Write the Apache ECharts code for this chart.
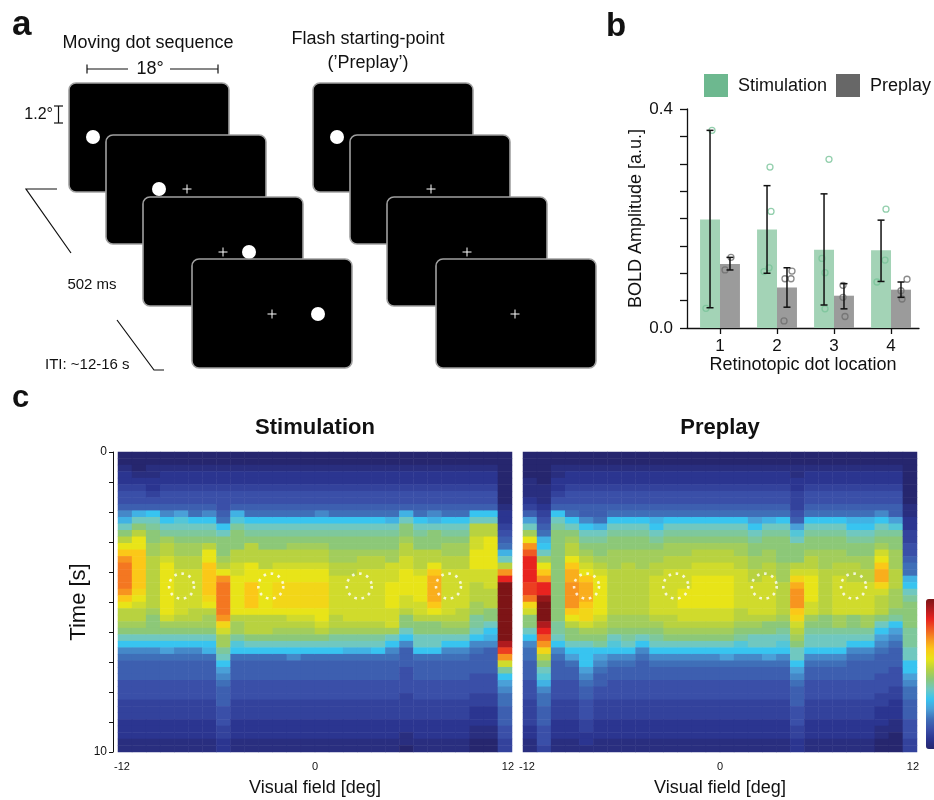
<!DOCTYPE html>
<html>
<head>
<meta charset="utf-8">
<script src="https://cdn.jsdelivr.net/npm/echarts@6/dist/echarts.min.js"></script>
<style>
  html, body { margin: 0; padding: 0; background: #fff; }
  #chart { width: 934px; height: 800px; }
</style>
</head>
<body>
<div id="chart"></div>
<script>
// ---------- Panel b: BOLD amplitude per retinotopic dot location ----------
const dotLocations = [1, 2, 3, 4];
const stimMean = [0.198, 0.180, 0.143, 0.142];
const preplayMean = [0.117, 0.074, 0.059, 0.070];
// [lower, upper] ends of the error bars
const stimErr = [[0.037, 0.361], [0.100, 0.260], [0.042, 0.245], [0.085, 0.197]];
const preplayErr = [[0.106, 0.129], [0.038, 0.110], [0.035, 0.081], [0.056, 0.084]];
// individual subjects: [jittered location, amplitude]
const stimSubjects = [
  [0.860, 0.361], [0.754, 0.036],
  [1.877, 0.294], [1.895, 0.213], [1.860, 0.110], [1.772, 0.103],
  [2.912, 0.308], [2.789, 0.127], [2.842, 0.101], [2.842, 0.035],
  [3.912, 0.217], [3.895, 0.124], [3.754, 0.084]
];
const preplaySubjects = [
  [1.193, 0.129], [1.088, 0.106],
  [2.263, 0.104], [2.140, 0.090], [2.246, 0.090], [2.123, 0.013],
  [3.158, 0.078], [3.158, 0.056], [3.193, 0.021],
  [4.281, 0.089], [4.175, 0.068], [4.193, 0.053]
];
const amplitudeTicks = [0, 0.4];

// ---------- Panel c: response over time across the visual field ----------
// One string per visual-field column (left to right), one character per
// time bin (top to bottom), base-36 response level on a 0..30 scale.
const stimCols = [
  "0012234457" + "9cegikmnnn" + "nmkiggfeca" + "7655544433" + "322211",
  "0001234459" + "cegiikkkkk" + "kjihggfeca" + "7655544433" + "322211",
  "001122345a" + "cdeeffgggg" + "ggggfeeeca" + "7655544433" + "322211",
  "0012234457" + "acdfgghiii" + "iiiiihfeca" + "8655544433" + "322211",
  "0012234458" + "bcdeffgghh" + "hhhhhgfeca" + "7655544433" + "322211",
  "0012234456" + "acdeffgghh" + "hhhhggfeca" + "7655544433" + "322211",
  "0012234457" + "acdegiikkk" + "kkjigffeca" + "9655544433" + "322211",
  "0012234445" + "6aceeefgim" + "nnnnnmjhff" + "dca8765554" + "443322",
  "0012234459" + "bdeeegghhi" + "iiiiigffdb" + "a655544433" + "322211",
  "0012234456" + "acdegggiii" + "kkkkigggec" + "a655544433" + "322211",
  "0012234456" + "acdeegggii" + "iiiiigggec" + "a655544433" + "322211",
  "0012234456" + "acdeegghii" + "jjjjiggfec" + "a655544433" + "322211",
  "0012234456" + "acdefgghii" + "jjjjihgfec" + "a755544433" + "322211",
  "0012234456" + "acdefgghii" + "jjjjihgfec" + "a655544433" + "322211",
  "0012234457" + "acdefgghii" + "jjjjiihgec" + "a655544433" + "322211",
  "0012234456" + "acdeeffggh" + "hhhhhggfdc" + "a655544433" + "322211",
  "0012234456" + "acdeeffggh" + "hhhhhhgfdc" + "9655544433" + "322211",
  "0012234456" + "acdeefgghh" + "hhhhhhgfdc" + "9655544433" + "322211",
  "0012234456" + "acdeefgghh" + "hhhhhhgfdc" + "a655544433" + "322211",
  "0012234456" + "9cdeeffhhh" + "iiiihhhfca" + "7655544433" + "322211",
  "0012234459" + "ceefgghhii" + "iihhgeeca7" + "5554444333" + "322110",
  "0012234456" + "acdeeggghi" + "iiihhgeecc" + "a655544433" + "322211",
  "0012234457" + "9ceeeggikl" + "lllkigeecc" + "a655544433" + "322211",
  "0012234456" + "acdeffgghh" + "hhhhhgfeca" + "7655544433" + "322211",
  "0012234456" + "acdeffgghh" + "hhhhggfeca" + "7655544433" + "322211",
  "001223445a" + "cgghhiiihh" + "gggffddca7" + "6555444332" + "221100",
  "001223445a" + "cggiiiiihh" + "hgggeeca97" + "5555444332" + "221100",
  "0000000012" + "234569cgmq" + "uuuuuuuuus" + "pmhda87665" + "554433"
];
const preplayCols = [
  "0000111235" + "8cfimoqqqq" + "ppnjheeca7" + "6655544433" + "332211",
  "0000011123" + "4569acfikm" + "qqtuuusqom" + "jgecb97665" + "554443",
  "001122345a" + "cdeeeeeeee" + "eeeeeeddca" + "7655544433" + "322211",
  "0012234456" + "acefggikll" + "mmmmkigeec" + "a865544433" + "322211",
  "0012234455" + "7acdefghik" + "lllkjjhfec" + "aaa8765544" + "433221",
  "0012234455" + "69cdeefghi" + "iiiiihgfed" + "a876554433" + "322211",
  "0012234456" + "acdeefffgg" + "gggggffecb" + "a765544433" + "322211",
  "0012234456" + "acdeeffggg" + "gggggffedc" + "a765544433" + "322211",
  "0012234456" + "acdeefffgg" + "gggggffeca" + "7655544433" + "322211",
  "0012234456" + "9acdeffggh" + "hhhhhgfedc" + "a765544433" + "322211",
  "0012234456" + "acdeffgghh" + "hhhhhggfec" + "a765544433" + "322211",
  "0012234456" + "acdeffgghh" + "hiiihhgfec" + "a765544433" + "322211",
  "0012234456" + "acdefgghhi" + "iiiihhgfec" + "a765544433" + "322211",
  "0012234456" + "acdefgghhi" + "iiiihhgfec" + "a765544433" + "322211",
  "0012234456" + "acdefgghhi" + "iiiihhgfec" + "a865544433" + "322211",
  "0012234456" + "acdeffgghh" + "hhhhggfedb" + "a765544433" + "322211",
  "0012234456" + "8acdeeffgg" + "hhhhhgfecc" + "a765544433" + "322211",
  "0012234456" + "9cdeeffggh" + "hhhhhgeecc" + "a865544433" + "322211",
  "0012234456" + "acdeeeefff" + "gggggfedcb" + "a765544433" + "322211",
  "0011223334" + "58bceeeghj" + "lmmmkjhgfe" + "cca8765554" + "443322",
  "0012234456" + "acdeefgghi" + "iiihhfedcc" + "a765544433" + "322211",
  "0012234456" + "acdeefffgg" + "gggggeedcc" + "a765544433" + "322211",
  "0012234456" + "acdeeffggh" + "hhhhhffdcc" + "a765544433" + "322211",
  "0012234456" + "9acdeefggg" + "hhhhheedca" + "7655544433" + "322211",
  "0012234456" + "9acdeeffgg" + "hhhhhffdca" + "7655544433" + "322211",
  "0012234457" + "acdefhikll" + "jhgggeca87" + "6555444332" + "221100",
  "0012234455" + "8bdeefffgg" + "gfffeda876" + "5554443322" + "211000",
  "0000000011" + "2233445669" + "acdeeeeddd" + "ccaa876655" + "544433"
];
const fieldTicks = [-12, 0, 12];
const timeTicks = [0, 10];
// dot locations marked on the maps: visual-field position [deg] and time [s]
const markerDeg = [-8.3, -2.75, 2.75, 8.3];
const markerTime = 4.47;

// ---------- helpers ----------
const FONT = '"Liberation Sans", Arial, Helvetica, sans-serif';
const nRows = stimCols[0].length;
const colIdx = stimCols.map((_, i) => i);
const rowIdx = Array.from({ length: nRows }, (_, i) => i);

function toCells(cols) {
  const out = [];
  cols.forEach((s, c) => {
    for (let r = 0; r < s.length; r++) out.push([c, r, parseInt(s[r], 36)]);
  });
  return out;
}

const levelColors = [
  '#26266e', '#2b3590', '#3a4fa8', '#3f6fb8', '#4aa0d8', '#38c4f0',
  '#70c8c0', '#8cc878', '#b8d240', '#e8e418', '#fbc818', '#f7941f',
  '#f05a22', '#e8231f', '#b01b1e', '#7d1416'
];

// ---------- panel a: stimulus schematic ----------
const g = [];
let zc = 10;
function txt(text, x, y, size, opts) {
  opts = opts || {};
  g.push({
    type: 'text', x: x, y: y, z: zc++,
    style: {
      text: text, fill: '#111',
      font: (opts.bold ? 'bold ' : 'normal ') + size + 'px ' + FONT,
      textAlign: opts.align || 'center', textVerticalAlign: opts.valign || 'middle'
    }
  });
}
function line(pts, color, w) {
  g.push({ type: 'polyline', z: zc++, shape: { points: pts },
           style: { stroke: color || '#111', lineWidth: w || 1.2, fill: null } });
}
function screen(x, y) {
  g.push({ type: 'rect', z: zc++, shape: { x: x, y: y, width: 160, height: 109, r: 7 },
           style: { fill: '#000', stroke: '#a0a0a0', lineWidth: 1.6 } });
}
function dot(x, y) {
  g.push({ type: 'circle', z: zc++, shape: { cx: x, cy: y, r: 7 }, style: { fill: '#fff' } });
}
function cross(x, y) {
  line([[x - 4.5, y], [x + 4.5, y]], '#fff', 1);
  line([[x, y - 4.5], [x, y + 4.5]], '#fff', 1);
}

txt('a', 12, 25, 35, { bold: true, align: 'left' });
txt('Moving dot sequence', 148, 43, 18);
line([[87, 69], [128, 69]]); line([[170, 69], [218, 69]]);
line([[87, 64.5], [87, 73.5]]); line([[218, 64.5], [218, 73.5]]);
txt('18°', 150, 69, 18);
txt('1.2°', 53, 115, 16, { align: 'right' });
line([[58.5, 106], [58.5, 123]]);
line([[54, 106], [63, 106]]); line([[54, 123], [63, 123]]);

// moving dot sequence
screen(69, 83);  dot(93, 137);
screen(106, 135); cross(187, 189); dot(159, 189);
screen(143, 197); cross(223, 252); dot(249, 252);
screen(192, 259); cross(272, 314); dot(318, 314);

// flash starting point only
txt('Flash starting-point', 368, 39, 18);
txt('(\u2019Preplay\u2019)', 368, 63, 18);
screen(313, 83);  dot(337, 137);
screen(350, 135); cross(431, 189);
screen(387, 197); cross(467, 252);
screen(436, 259); cross(515, 314);

line([[57, 189], [26, 189], [71, 253]]);
txt('502 ms', 92, 285, 15);
line([[117, 320], [154, 370], [164, 370]]);
txt('ITI: ~12-16 s', 45, 365, 15, { align: 'left' });

// ---------- panel b decorations ----------
txt('b', 606, 27, 33, { bold: true, align: 'left' });
g.push({ type: 'rect', z: zc++, shape: { x: 704, y: 74, width: 24, height: 23 }, style: { fill: '#6db88f' } });
txt('Stimulation', 738, 86, 18, { align: 'left' });
g.push({ type: 'rect', z: zc++, shape: { x: 836, y: 74, width: 24, height: 23 }, style: { fill: '#676767' } });
txt('Preplay', 870, 86, 18, { align: 'left' });

// ---------- panel c decorations ----------
txt('c', 12, 398, 31, { bold: true, align: 'left' });
txt('Stimulation', 315, 428, 22, { bold: true });
txt('Preplay', 720, 428, 22, { bold: true });

// ---------- series renderers ----------
const HALF = 0.175;
function barRenderer(offset) {
  return function (params, api) {
    const x = api.value(0) + offset;
    const p0 = api.coord([x - HALF, api.value(1)]);
    const p1 = api.coord([x + HALF, 0]);
    return { type: 'rect', shape: { x: p0[0], y: p0[1], width: p1[0] - p0[0], height: p1[1] - p0[1] },
             style: api.style() };
  };
}
function errRenderer(params, api) {
  const x = api.value(0) + api.value(3) * HALF;
  const lo = api.coord([x, api.value(1)]);
  const hi = api.coord([x, api.value(2)]);
  const c = 3.5;
  const st = { stroke: '#111', lineWidth: 1.5 };
  return { type: 'group', children: [
    { type: 'line', shape: { x1: lo[0], y1: lo[1], x2: hi[0], y2: hi[1] }, style: st },
    { type: 'line', shape: { x1: lo[0] - c, y1: lo[1], x2: lo[0] + c, y2: lo[1] }, style: st },
    { type: 'line', shape: { x1: hi[0] - c, y1: hi[1], x2: hi[0] + c, y2: hi[1] }, style: st }
  ] };
}

const errData = [];
dotLocations.forEach((d, i) => {
  errData.push([d, stimErr[i][0], stimErr[i][1], -1]);
  errData.push([d, preplayErr[i][0], preplayErr[i][1], 1]);
});

const labelStyle = { color: '#111', fontFamily: FONT };
const markerData = markerDeg.map(d => [d, markerTime]);

function fieldAxis(gridIndex) {
  return {
    gridIndex: gridIndex, type: 'value', position: 'bottom', min: -12.25, max: 12.25,
    axisLine: { show: false }, axisTick: { show: false }, splitLine: { show: false },
    axisLabel: Object.assign({ customValues: fieldTicks, fontSize: 11, margin: 9 }, labelStyle),
    name: 'Visual field [deg]', nameLocation: 'middle', nameGap: 27,
    nameTextStyle: { fontSize: 18, color: '#111', fontFamily: FONT }
  };
}
function hiddenCat(gridIndex, data, pos, inverse) {
  return { gridIndex: gridIndex, type: 'category', data: data, show: false,
           position: pos, inverse: !!inverse };
}
function circleSeries(xi, yi) {
  return {
    type: 'scatter', xAxisIndex: xi, yAxisIndex: yi, data: markerData, silent: true,
    symbol: 'circle', symbolSize: 25, z: 5,
    itemStyle: { color: 'rgba(0,0,0,0)', borderColor: '#fff', borderWidth: 2.6, borderType: [2.6, 4.7] }
  };
}

const option = {
  animation: false,
  backgroundColor: '#fff',
  graphic: { elements: g },
  grid: [
    { left: 687, top: 109, width: 232, height: 219 },
    { left: 118, top: 452, width: 394, height: 300 },
    { left: 523, top: 452, width: 394, height: 300 }
  ],
  xAxis: [
    { gridIndex: 0, type: 'value', min: 0.4211, max: 4.491,
      axisLine: { onZero: false, lineStyle: { color: '#111', width: 1.3 } },
      axisTick: { customValues: dotLocations, length: 6, lineStyle: { color: '#111', width: 1.3 } },
      axisLabel: Object.assign({ customValues: dotLocations, fontSize: 17, margin: 10 }, labelStyle),
      splitLine: { show: false },
      name: 'Retinotopic dot location', nameLocation: 'middle', nameGap: 28,
      nameTextStyle: { fontSize: 18, color: '#111', fontFamily: FONT } },
    hiddenCat(1, colIdx, 'top'),
    fieldAxis(1),
    hiddenCat(2, colIdx, 'top'),
    fieldAxis(2)
  ],
  yAxis: [
    { gridIndex: 0, type: 'value', min: 0, max: 0.4, interval: 0.05,
      axisLine: { show: true, onZero: false, lineStyle: { color: '#111', width: 1.3 } },
      axisTick: { show: true, length: 7, lineStyle: { color: '#111', width: 1.3 } },
      axisLabel: Object.assign({ customValues: amplitudeTicks, fontSize: 17, margin: 14,
                                 formatter: v => v.toFixed(1) }, labelStyle),
      splitLine: { show: false },
      name: 'BOLD Amplitude [a.u.]', nameLocation: 'middle', nameGap: 15, nameRotate: 90,
      nameTextStyle: { fontSize: 18, color: '#111', fontFamily: FONT } },
    hiddenCat(1, rowIdx, 'right', true),
    { gridIndex: 1, type: 'value', min: 0, max: 10, interval: 1, inverse: true, position: 'left', offset: 5,
      axisLine: { show: true, onZero: false, lineStyle: { color: '#111', width: 1 } },
      axisTick: { show: true, length: 4, lineStyle: { color: '#111', width: 1 } },
      axisLabel: Object.assign({ customValues: timeTicks, fontSize: 12, margin: 6 }, labelStyle),
      splitLine: { show: false },
      name: 'Time [s]', nameLocation: 'middle', nameGap: 22, nameRotate: 90,
      nameTextStyle: { fontSize: 22, color: '#111', fontFamily: FONT } },
    hiddenCat(2, rowIdx, 'right', true),
    { gridIndex: 2, type: 'value', min: 0, max: 10, inverse: true, show: false, position: 'left' }
  ],
  visualMap: {
    type: 'continuous', min: 0, max: 30, seriesIndex: [5, 6],
    inRange: { color: levelColors },
    left: 926, top: 599, itemWidth: 20, itemHeight: 150, padding: 0,
    calculable: false, showLabel: false, orient: 'vertical'
  },
  series: [
    { type: 'custom', xAxisIndex: 0, yAxisIndex: 0, renderItem: barRenderer(-HALF), silent: true,
      itemStyle: { color: '#a3d3b6' }, data: dotLocations.map((d, i) => [d, stimMean[i]]) },
    { type: 'custom', xAxisIndex: 0, yAxisIndex: 0, renderItem: barRenderer(HALF), silent: true,
      itemStyle: { color: '#9b9b9b' }, data: dotLocations.map((d, i) => [d, preplayMean[i]]) },
    { type: 'scatter', xAxisIndex: 0, yAxisIndex: 0, data: stimSubjects, symbolSize: 6, silent: true,
      itemStyle: { color: 'rgba(0,0,0,0)', borderColor: '#78c398', borderWidth: 1.3 } },
    { type: 'scatter', xAxisIndex: 0, yAxisIndex: 0, data: preplaySubjects, symbolSize: 6, silent: true,
      itemStyle: { color: 'rgba(0,0,0,0)', borderColor: '#6e6e6e', borderWidth: 1.3 } },
    { type: 'custom', xAxisIndex: 0, yAxisIndex: 0, renderItem: errRenderer, silent: true, z: 4,
      data: errData },
    { type: 'heatmap', xAxisIndex: 1, yAxisIndex: 1, data: toCells(stimCols), silent: true,
      itemStyle: { borderWidth: 0 } },
    { type: 'heatmap', xAxisIndex: 3, yAxisIndex: 3, data: toCells(preplayCols), silent: true,
      itemStyle: { borderWidth: 0 } },
    circleSeries(2, 2),
    circleSeries(4, 4)
  ]
};

const chart = echarts.init(document.getElementById('chart'), null, { renderer: 'canvas' });
chart.setOption(option);
</script>
</body>
</html>
